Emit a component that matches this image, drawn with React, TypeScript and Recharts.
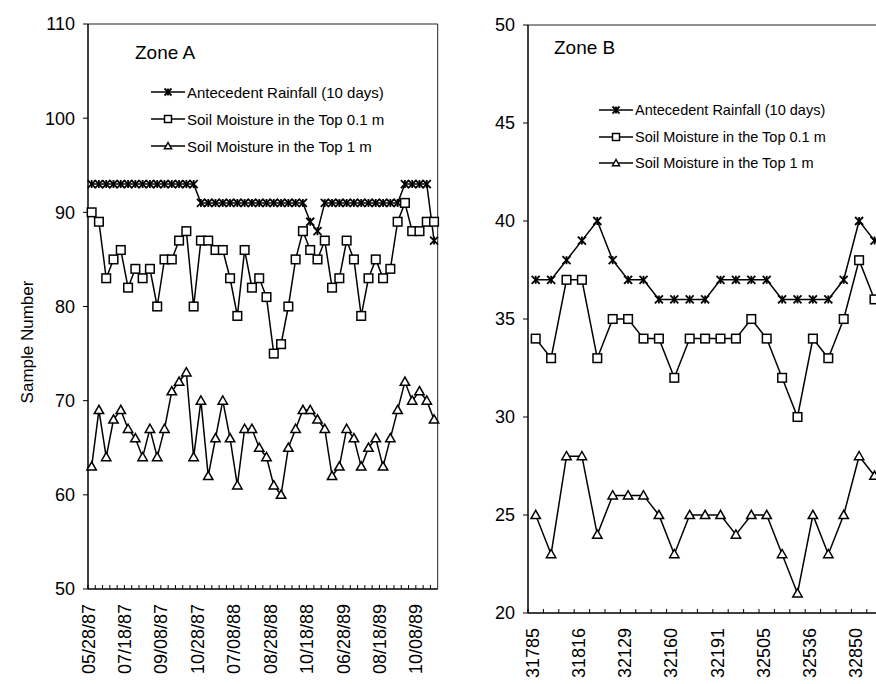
import React from 'react';
import { LineChart, Line, XAxis, YAxis, CartesianGrid, Legend } from 'recharts';

const FONT = '"Liberation Sans", Arial, Helvetica, sans-serif';

// Zone A: 48 sampling dates, every fifth one is labelled
const zoneADates = ['05/28/87', '07/18/87', '09/08/87', '10/28/87', '07/08/88', '08/28/88', '10/18/88', '06/28/89', '08/18/89', '10/08/89'];
const zoneARainfall = [
  93, 93, 93, 93, 93, 93, 93, 93, 93, 93, 93, 93, 93, 93, 93,
  91, 91, 91, 91, 91, 91, 91, 91, 91, 91, 91, 91, 91, 91, 91,
  89, 88,
  91, 91, 91, 91, 91, 91, 91, 91, 91, 91, 91,
  93, 93, 93, 93, 87,
];
const zoneATop01 = [
  90, 89, 83, 85, 86, 82, 84, 83, 84, 80,
  85, 85, 87, 88, 80, 87, 87, 86, 86, 83,
  79, 86, 82, 83, 81, 75, 76, 80, 85, 88,
  86, 85, 87, 82, 83, 87, 85, 79, 83, 85,
  83, 84, 89, 91, 88, 88, 89, 89,
];
const zoneATop1 = [
  63, 69, 64, 68, 69, 67, 66, 64, 67, 64,
  67, 71, 72, 73, 64, 70, 62, 66, 70, 66,
  61, 67, 67, 65, 64, 61, 60, 65, 67, 69,
  69, 68, 67, 62, 63, 67, 66, 63, 65, 66,
  63, 66, 69, 72, 70, 71, 70, 68,
];
const zoneAYTicks = [50, 60, 70, 80, 90, 100, 110];

// Zone B: 23 sampling dates, every third one is labelled
const zoneBDates = ['31785', '31816', '32129', '32160', '32191', '32505', '32536', '32850'];
const zoneBRainfall = [37, 37, 38, 39, 40, 38, 37, 37, 36, 36, 36, 36, 37, 37, 37, 37, 36, 36, 36, 36, 37, 40, 39];
const zoneBTop01 = [34, 33, 37, 37, 33, 35, 35, 34, 34, 32, 34, 34, 34, 34, 35, 34, 32, 30, 34, 33, 35, 38, 36];
const zoneBTop1 = [25, 23, 28, 28, 24, 26, 26, 26, 25, 23, 25, 25, 25, 24, 25, 25, 23, 21, 25, 23, 25, 28, 27];
const zoneBYTicks = [20, 25, 30, 35, 40, 45, 50];

const seriesNames = ['Antecedent Rainfall (10 days)', 'Soil Moisture in the Top 0.1 m', 'Soil Moisture in the Top 1 m'];

const buildRows = (rain: number[], top01: number[], top1: number[]) =>
  rain.map((r, i) => ({ i, rainfall: r, top01: top01[i], top1: top1[i] }));

const zoneAData = buildRows(zoneARainfall, zoneATop01, zoneATop1);
const zoneBData = buildRows(zoneBRainfall, zoneBTop01, zoneBTop1);

// --- markers ---
const StarMark = ({ cx, cy, r = 4 }: any) => (
  <g stroke="#000" strokeWidth={1.8} fill="none">
    <line x1={cx - r} y1={cy - r} x2={cx + r} y2={cy + r} />
    <line x1={cx - r} y1={cy + r} x2={cx + r} y2={cy - r} />
    <line x1={cx} y1={cy - r} x2={cx} y2={cy + r} />
  </g>
);

const SquareMark = ({ cx, cy, r = 4.3 }: any) => (
  <rect x={cx - r} y={cy - r} width={2 * r} height={2 * r} fill="#fff" stroke="#000" strokeWidth={1.5} />
);

const TriangleMark = ({ cx, cy, r = 4.7 }: any) => (
  <polygon
    points={`${cx},${cy - r} ${cx - r},${cy + r * 0.75} ${cx + r},${cy + r * 0.75}`}
    fill="#fff"
    stroke="#000"
    strokeWidth={1.5}
  />
);

const markers = [StarMark, SquareMark, TriangleMark];

// --- axis pieces ---
function DateTick(props: any) {
  const { x, y, payload, step, every, labels } = props;
  const i = payload.value as number;
  const label = i % every === 0 ? labels[i / every] : null;
  return (
    <g>
      <line x1={x - step / 2} x2={x - step / 2} y1={y} y2={y - 4} stroke="#000" />
      {label && (
        <text
          x={0}
          y={0}
          transform={`translate(${x + 3},${y + 15}) rotate(-90)`}
          textAnchor="end"
          fontSize={18}
          fontFamily={FONT}
          fill="#000"
        >
          {label}
        </text>
      )}
    </g>
  );
}

const YTitle = () => (
  <text
    x={27}
    y={342}
    transform="rotate(-90 27 342)"
    textAnchor="middle"
    dominantBaseline="central"
    fontSize={17}
    fontFamily={FONT}
    fill="#000"
  >
    Sample Number
  </text>
);

function ZoneKey({ title, titleX, titleY, keyX, rowsY, fontSize }: any) {
  return (
    <div style={{ position: 'relative', width: '100%', height: '100%', fontFamily: FONT, color: '#000' }}>
      <div style={{ position: 'absolute', left: titleX, top: titleY - 12, fontSize: 19, lineHeight: '24px', whiteSpace: 'nowrap' }}>
        {title}
      </div>
      {seriesNames.map((name, k) => {
        const Mark = markers[k];
        return (
          <div
            key={name}
            style={{
              position: 'absolute',
              left: keyX,
              top: rowsY[k] - 10,
              height: 20,
              display: 'flex',
              alignItems: 'center',
              whiteSpace: 'nowrap',
              fontSize,
            }}
          >
            <svg width={34} height={14} style={{ display: 'block' }}>
              <line x1={0} x2={34} y1={7} y2={7} stroke="#000" strokeWidth={1.5} />
              <Mark cx={17} cy={7} r={3.5} />
            </svg>
            <span style={{ marginLeft: 2 }}>{name}</span>
          </div>
        );
      })}
    </div>
  );
}

function ZoneChart(props: any) {
  const { data, labels, every, yTicks, width, margin, xAxisHeight, step, legend, yTitle } = props;
  const axisStyle = { stroke: '#000', strokeWidth: 1.5 };
  const keys = ['rainfall', 'top01', 'top1'];
  return (
    <LineChart width={width} height={684} data={data} margin={margin}>
      <CartesianGrid
        stroke="#222"
        horizontalCoordinatesGenerator={({ offset }: any) => [offset.top]}
        verticalCoordinatesGenerator={({ offset }: any) => [offset.left + offset.width]}
      />
      <XAxis
        dataKey="i"
        interval={0}
        padding={{ left: step / 2, right: step / 2 }}
        height={xAxisHeight}
        tickSize={0}
        tickMargin={0}
        tickLine={false}
        axisLine={axisStyle}
        tick={(p: any) => <DateTick {...p} step={step} every={every} labels={labels} />}
      />
      <YAxis
        width={60}
        domain={[yTicks[0], yTicks[yTicks.length - 1]]}
        ticks={yTicks}
        interval={0}
        allowDataOverflow
        tickSize={5}
        tickMargin={8}
        axisLine={axisStyle}
        tickLine={{ stroke: '#000' }}
        tick={{ fill: '#000', fontSize: 18, fontFamily: FONT }}
        label={yTitle ? <YTitle /> : undefined}
      />
      <Legend
        layout="vertical"
        align="center"
        verticalAlign="middle"
        wrapperStyle={{ left: 0, top: 0, width, height: 200 }}
        content={() => <ZoneKey {...legend} />}
      />
      {keys.map((k, n) => {
        const Mark = markers[n];
        return (
          <Line
            key={k}
            dataKey={k}
            name={seriesNames[n]}
            type="linear"
            stroke="#000"
            strokeWidth={1.5}
            isAnimationActive={false}
            dot={(p: any) => <Mark key={`${k}-${p.index}`} cx={p.cx} cy={p.cy} />}
            activeDot={false}
          />
        );
      })}
    </LineChart>
  );
}

// plot areas: A spans x 88..437.7, B spans x 528..882.2 (runs past the right edge)
const STEP_A = 349.7 / zoneAData.length;
const STEP_B = 354.2 / zoneBData.length;

export default function App() {
  return (
    <div style={{ position: 'fixed', left: 0, top: 0, width: 876, height: 684, overflow: 'hidden', background: '#fff' }}>
      <div style={{ position: 'absolute', left: 0, top: 0 }}>
        <ZoneChart
          data={zoneAData}
          labels={zoneADates}
          every={5}
          yTicks={zoneAYTicks}
          width={440}
          margin={{ top: 24, right: 2.3, bottom: 0, left: 28 }}
          xAxisHeight={95}
          step={STEP_A}
          yTitle
          legend={{ title: 'Zone A', titleX: 135, titleY: 53, keyX: 151, rowsY: [92, 119, 146], fontSize: 15 }}
        />
      </div>
      <div style={{ position: 'absolute', left: 450, top: 0 }}>
        <ZoneChart
          data={zoneBData}
          labels={zoneBDates}
          every={3}
          yTicks={zoneBYTicks}
          width={460}
          margin={{ top: 25, right: 27.8, bottom: 0, left: 18 }}
          xAxisHeight={71}
          step={STEP_B}
          legend={{ title: 'Zone B', titleX: 104, titleY: 48, keyX: 149, rowsY: [110, 137, 163], fontSize: 14.5 }}
        />
      </div>
    </div>
  );
}
